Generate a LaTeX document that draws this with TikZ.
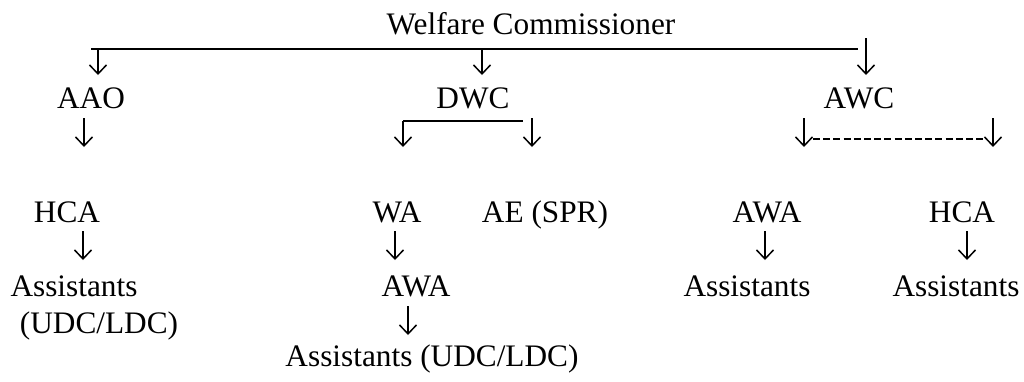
\documentclass[tikz,border=0pt]{standalone}
\usepackage{fontspec}
\setmainfont{Liberation Serif}
\usetikzlibrary{arrows.meta}

\begin{document}
\begin{tikzpicture}[
    x=0.5pt, y=-0.5pt,
    every node/.style={inner sep=0pt, anchor=base, font=\fontsize{15.65pt}{18.5pt}\selectfont},
    dn/.style={draw, line width=0.75pt, -{Straight Barb[length=4.5pt, width=8.5pt, line width=0.75pt]}},
    bar/.style={draw, line width=1pt},
    dashbar/.style={bar, dash pattern=on 3.5pt off 1.6pt} % the dotted link under AWC
    ]
    \useasboundingbox (0,0) rectangle (1024,381);

    % top
    \node (wc) at (531,34) {Welfare Commissioner};
    \coordinate (barL) at (91,49);
    \coordinate (barR) at (858,49);
    \draw[bar] (barL) -- (barR);

    % second row
    \node (aao) at (91,108) {AAO};
    \node (dwc) at (473,108) {DWC};
    \node (awc) at (859,108) {AWC};
    \coordinate (aaoIn) at (98,49);   \coordinate (aaoTip) at (98,75);
    \coordinate (dwcIn) at (482,49);  \coordinate (dwcTip) at (482,75);
    \coordinate (awcIn) at (866,38);  \coordinate (awcTip) at (866,75);
    \draw[dn] (aaoIn) -- (aaoTip);
    \draw[dn] (dwcIn) -- (dwcTip);
    \draw[dn] (awcIn) -- (awcTip);

    % branches under the second row
    \coordinate (aaoOut) at (84,118); \coordinate (aaoEnd) at (84,147);
    \draw[dn] (aaoOut) -- (aaoEnd);

    \coordinate (dwcL) at (403,121);  \coordinate (dwcLEnd) at (403,147);
    \coordinate (dwcR) at (523,121);
    \coordinate (dwcOut) at (532,118); \coordinate (dwcREnd) at (532,147);
    \draw[bar] (dwcL) -- (dwcR);
    \draw[dn] (dwcL) -- (dwcLEnd);
    \draw[dn] (dwcOut) -- (dwcREnd);

    \coordinate (awcL) at (804,118);  \coordinate (awcLEnd) at (804,147);
    \coordinate (awcR) at (993,118);  \coordinate (awcREnd) at (993,147);
    \coordinate (dashL) at (813,139); \coordinate (dashR) at (984,139);
    \draw[dn] (awcL) -- (awcLEnd);
    \draw[dn] (awcR) -- (awcREnd);
    \draw[dashbar] (dashL) -- (dashR);

    % third row
    \node (hcaL) at (67,222) {HCA};
    \node (wa) at (397,222) {WA};
    \node (ae) at (545,222) {AE (SPR)};
    \node (awaR) at (767,222) {AWA};
    \node (hcaR) at (962,222) {HCA};

    \coordinate (hcaLOut) at (83,231);  \coordinate (hcaLEnd) at (83,260);
    \coordinate (waOut) at (395,231);   \coordinate (waEnd) at (395,260);
    \coordinate (awaROut) at (765,231); \coordinate (awaREnd) at (765,260);
    \coordinate (hcaROut) at (967,231); \coordinate (hcaREnd) at (967,260);
    \draw[dn] (hcaLOut) -- (hcaLEnd);
    \draw[dn] (waOut) -- (waEnd);
    \draw[dn] (awaROut) -- (awaREnd);
    \draw[dn] (hcaROut) -- (hcaREnd);

    % bottom rows
    \node (asstL) at (74,296) {Assistants};
    \node (udcL) at (99,333) {(UDC/LDC)};
    \node (awaM) at (416,296) {AWA};
    \node (asstR) at (747,296) {Assistants};
    \node (asstRR) at (956,296) {Assistants};

    \coordinate (awaMOut) at (408,306); \coordinate (awaMEnd) at (408,335);
    \draw[dn] (awaMOut) -- (awaMEnd);
    \node (asstM) at (432,366) {Assistants (UDC/LDC)};
\end{tikzpicture}
\end{document}
